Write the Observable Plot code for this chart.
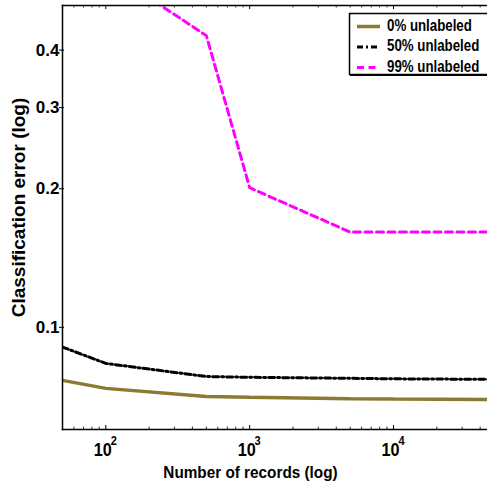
<!DOCTYPE html>
<html><head><meta charset="utf-8">
<script src="https://cdn.jsdelivr.net/npm/d3@7"></script>
<script src="https://cdn.jsdelivr.net/npm/@observablehq/plot@0.6"></script>
<style>
body{margin:0;background:#fff}
#wrap{position:relative;width:487px;height:488px;overflow:hidden}
#legend{position:absolute;left:0;top:0}
</style></head><body><div id="wrap"></div>
<script>
const records = [50, 100, 500, 1000, 5000, 10000, 50000];
const err0  = [0.0767, 0.0737, 0.0708, 0.0705, 0.0700, 0.0699, 0.0697];
const err50 = [0.0906, 0.0835, 0.0782, 0.0779, 0.0775, 0.0773, 0.0771];
const err99 = [0.72, 0.60, 0.43, 0.201, 0.161, 0.161, 0.161];
const seriesNames = ["0% unlabeled", "50% unlabeled", "99% unlabeled"];
const yTicks = [0.1, 0.2, 0.3, 0.4];
const xMajorTicks = [100, 1000, 10000];
const xMinorTicks = [60, 70, 80, 90, 200, 300, 400, 500, 600, 700, 800, 900,
  2000, 3000, 4000, 5000, 6000, 7000, 8000, 9000, 20000, 30000, 40000];

const seriesStyle = [
  {stroke: "#8c7a32", width: 3.5, dash: null},
  {stroke: "#000000", width: 3, dash: "6,3,2,3"},
  {stroke: "#ff00ff", width: 3, dash: "7,4.5"}
];
const seriesValues = [err0, err50, err99];
const rows = seriesNames.map((name, i) => records.map((r, j) => ({x: r, y: seriesValues[i][j], s: name})));

const font = "'Liberation Sans',Arial,sans-serif";

const plot = Plot.plot({
  width: 487, height: 488,
  marginLeft: 62, marginRight: 0, marginTop: 5, marginBottom: 59,
  style: {fontFamily: font, fontWeight: "bold", fontSize: "17px", color: "#000", background: "#fff", overflow: "visible"},
  x: {type: "log", domain: [50, 45000]},
  y: {type: "log", domain: [0.06, 0.5]},
  marks: [
    ...rows.map((data, i) => Plot.line(data, {
      x: "x", y: "y", stroke: seriesStyle[i].stroke, strokeWidth: seriesStyle[i].width,
      strokeDasharray: seriesStyle[i].dash, clip: true, strokeLinejoin: "miter"
    })),
    Plot.frame({anchor: "left", strokeWidth: 1.5}),
    Plot.frame({anchor: "top", strokeWidth: 1.5}),
    Plot.frame({anchor: "bottom", strokeWidth: 1.5}),
    Plot.tickX(xMajorTicks, {x: d => d, insetTop: 420, stroke: "#000"}),
    Plot.tickX(xMajorTicks, {x: d => d, insetBottom: 420, stroke: "#000"}),
    Plot.tickX(xMinorTicks, {x: d => d, insetTop: 421.5, stroke: "#000", strokeWidth: 0.8}),
    Plot.tickX(xMinorTicks, {x: d => d, insetBottom: 421.5, stroke: "#000", strokeWidth: 0.8}),
    Plot.axisY(yTicks, {tickFormat: d => d.toFixed(1), tickSize: 3, tickPadding: 0, fontSize: 17, label: null}),
    Plot.tickY(yTicks, {y: d => d, insetLeft: 0, insetRight: 423, stroke: "#000"}),
    Plot.axisX(xMajorTicks, {tickFormat: () => "10", tickSize: 0, tickPadding: 14, dx: -3, fontSize: 18, label: null}),
    Plot.axisX(xMajorTicks, {tickFormat: d => String(Math.round(Math.log10(d))), tickSize: 0, tickPadding: 6, dx: 8, fontSize: 13, textAnchor: "middle", label: null}),
    Plot.text(["Number of records (log)"], {text: d => d, frameAnchor: "bottom", dx: -24.5, dy: 36, lineAnchor: "top", textAnchor: "middle", fontSize: 17, fontWeight: "bold"}),
    Plot.text(["Classification error (log)"], {text: d => d, frameAnchor: "left", rotate: -90, dx: -43.5, dy: -10, textAnchor: "middle", fontSize: 19, fontWeight: "bold"})
  ]
});

const wrap = document.getElementById("wrap");
wrap.appendChild(plot);

// horizontal condensing of the Helvetica-like lettering
function condense(el, k) {
  const L = el.getComputedTextLength();
  if (L > 0) {
    el.setAttribute("textLength", (L * k).toFixed(2));
    el.setAttribute("lengthAdjust", "spacingAndGlyphs");
  }
}
plot.querySelectorAll("text").forEach(t => {
  const s = t.textContent;
  if (s === "Classification error (log)") return;
  if (/^0\.\d$/.test(s)) return;
  const k = s === "10" ? 0.9 : /^\d$/.test(s) ? 0.85 : 0.9;
  const spans = t.querySelectorAll("tspan");
  if (spans.length) spans.forEach(sp => condense(sp, k)); else condense(t, k);
});

// Legend
const legend = d3.select(wrap).append("svg").attr("id", "legend")
  .attr("width", 487).attr("height", 488)
  .style("pointer-events", "none");
legend.append("rect").attr("x", 349.5).attr("y", 13.5).attr("width", 160).attr("height", 61)
  .attr("fill", "#fff").attr("stroke", "#000").attr("stroke-width", 1.5);
legend.append("line").attr("x1", 350).attr("x2", 500).attr("y1", 75.5).attr("y2", 75.5)
  .attr("stroke", "#000").attr("stroke-width", 1);
const rowY = [25, 45.5, 66];
seriesNames.forEach((name, i) => {
  legend.append("line").attr("x1", 357).attr("x2", 380).attr("y1", rowY[i] + 1.5).attr("y2", rowY[i] + 1.5)
    .attr("stroke", seriesStyle[i].stroke).attr("stroke-width", seriesStyle[i].width)
    .attr("stroke-dasharray", seriesStyle[i].dash);
  const t = legend.append("text").attr("x", 387).attr("y", rowY[i]).attr("dy", "0.36em")
    .attr("font-family", font).attr("font-weight", "bold").attr("font-size", 16)
    .text(name);
  condense(t.node(), 0.83);
});
</script></body></html>
